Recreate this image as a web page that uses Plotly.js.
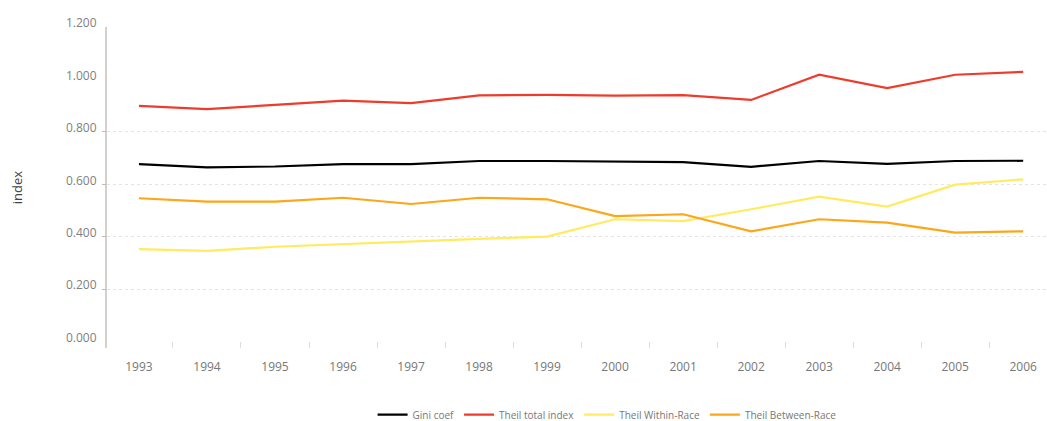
<!DOCTYPE html>
<html>
<head>
<meta charset="utf-8">
<script src="https://cdn.plot.ly/plotly-3.0.1.min.js"></script>
<style>html,body{margin:0;padding:0;background:#fff;}#chart{width:1047px;height:421px;}</style>
</head>
<body>
<div id="chart"></div>
<script>
const years = ["1993","1994","1995","1996","1997","1998","1999","2000","2001","2002","2003","2004","2005","2006"];
const gini = [0.677,0.665,0.668,0.677,0.677,0.689,0.689,0.686,0.685,0.667,0.689,0.678,0.689,0.690];
const theilTotal = [0.899,0.887,0.903,0.919,0.910,0.939,0.941,0.938,0.940,0.922,1.018,0.967,1.018,1.029];
const theilWithin = [0.353,0.346,0.362,0.372,0.384,0.392,0.401,0.467,0.460,0.505,0.553,0.515,0.599,0.619];
const theilBetween = [0.547,0.534,0.534,0.549,0.525,0.549,0.543,0.479,0.486,0.421,0.467,0.454,0.416,0.421];
const yTicks = [0,0.2,0.4,0.6,0.8,1.0,1.2];
const gridTicks = [0.2,0.4,0.6,0.8];
const seriesNames = ["Gini coef","Theil total index","Theil Within-Race","Theil Between-Race"];
const seriesColors = ["#000000","#ef3b2c","#ffeb5f","#fca61a"];
const seriesData = [gini, theilTotal, theilWithin, theilBetween];

const traces = seriesData.map((d,i)=>({
  x: years, y: d, type: "scatter", mode: "lines", name: seriesNames[i],
  line: {color: seriesColors[i], width: 2.2}
}));

const yRange = [-0.024, 1.2];
const layout = {
  width: 1047, height: 421,
  margin: {l: 107, r: 0, t: 27, b: 73, autoexpand: false},
  paper_bgcolor: "#fff", plot_bgcolor: "#fff",
  font: {family: "Open Sans, sans-serif", color: "#888"},
  showlegend: true,
  legend: {orientation: "h", x: 0.532, xanchor: "center", yref: "container", y: 0.015, yanchor: "middle",
           font: {size: 10, color: "#777"}},
  xaxis: {type: "category", range: [-0.47, 13.35], tickson: "boundaries",
          ticks: "inside", ticklen: 6, tickcolor: "#ddd", showgrid: false,
          showline: false, zeroline: false, ticklabelstandoff: 10,
          tickfont: {size: 12, color: "#777"}},
  yaxis: {range: yRange, tickvals: yTicks,
          tickformat: ".3f", ticks: "", showgrid: false,
          showline: true, linecolor: "#d4d0d0", linewidth: 2, zeroline: false,
          tickfont: {size: 12, color: "#808080"}, ticklabelshift: -4, ticklabelstandoff: 6,
          title: {text: "index", font: {size: 13, color: "#444"}, standoff: 40}},
  yaxis2: {range: yRange, overlaying: "y", side: "left", tickvals: gridTicks,
           showticklabels: false, ticks: "outside", ticklen: 4, tickcolor: "#bbb",
           showgrid: true, gridcolor: "#e4e4e4", griddash: "dot", gridwidth: 1,
           zeroline: false, showline: false}
};
traces.push({x: [years[0]], y: [null], yaxis: "y2", type: "scatter", mode: "lines", showlegend: false, hoverinfo: "skip"});
Plotly.newPlot("chart", traces, layout, {displayModeBar: false, staticPlot: true});
</script>
</body>
</html>
